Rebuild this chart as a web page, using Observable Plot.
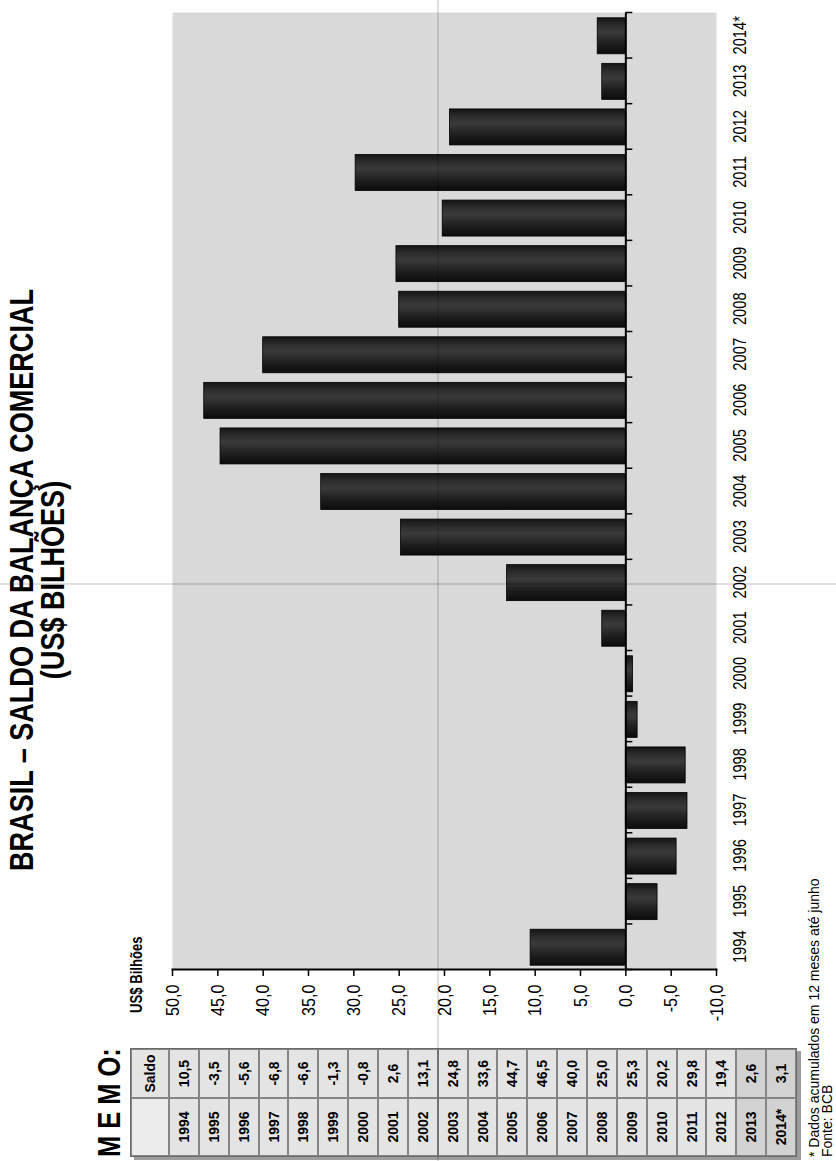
<!DOCTYPE html>
<html><head><meta charset="utf-8">
<script src="https://cdn.jsdelivr.net/npm/d3@7"></script>
<script src="https://cdn.jsdelivr.net/npm/@observablehq/plot@0.6"></script>
<style>
html,body{margin:0;padding:0;width:836px;height:1161px;overflow:hidden;background:#fff;}
#page{position:absolute;left:0;top:0;width:1161px;height:836px;transform-origin:0 0;transform:translateY(1161px) rotate(-90deg);font-family:"Liberation Sans",Arial,Helvetica,sans-serif;color:#000;}
#chart{position:absolute;left:120px;top:100px;}
#overlay{position:absolute;left:0;top:0;}
#memo{position:absolute;left:4px;top:130px;width:107px;border:1.5px solid #6a6a6a;box-shadow:-3px 4px 0 #9c9c9c;background:#e4e4e4;}
.row{display:flex;height:29.86px;}
.row.head{height:38px;}
.cell{box-sizing:border-box;border:0.5px solid #858585;display:flex;align-items:center;justify-content:center;font-weight:bold;font-size:14px;background:#e4e4e4;}
.c1{width:58px}.c2{width:49px}
.row.dark .cell{background:#d2d2d2;}
.vline{position:absolute;left:437px;top:0;width:1.5px;height:1161px;background:rgba(0,0,0,0.12);}
.hline{position:absolute;left:0;top:583px;width:836px;height:1.5px;background:rgba(0,0,0,0.12);}
</style>
</head><body>
<div id="page">
  <div id="chart"></div>
  <svg id="overlay" width="1161" height="836"></svg>
  <div id="memo"></div>
</div>
<div class="vline"></div>
<div class="hline"></div>
<script>
const years = ["1994","1995","1996","1997","1998","1999","2000","2001","2002","2003","2004","2005","2006","2007","2008","2009","2010","2011","2012","2013","2014*"];
const saldo = [10.5,-3.5,-5.6,-6.8,-6.6,-1.3,-0.8,2.6,13.1,24.8,33.6,44.7,46.5,40.0,25.0,25.3,20.2,29.8,19.4,2.6,3.1];
const valueTicks = [-10,-5,0,5,10,15,20,25,30,35,40,45,50];
const titleLines = ["BRASIL – SALDO DA BALANÇA COMERCIAL","(US$ BILHÕES)"];
const unitLabel = "US$ Bilhões";
const memoTitle = "M E M O:";
const memoHeader = "Saldo";
const notes = ["* Dados acumulados em 12 meses até junho","Fonte: BCB"];

const fmt = v => v.toFixed(1).replace(".", ",");
const data = years.map((y,i)=>({year:y, saldo:saldo[i]}));

const W=1041, H=700, mL=71, mR=13, mT=72, mB=84;
const step = (W-mL-mR)/years.length;
const tickLen = 7*(60/(H-mT-mB));
const font = '"Liberation Sans",Arial,Helvetica,sans-serif';

const chart = Plot.plot({
  width:W, height:H, marginLeft:mL, marginRight:mR, marginTop:mT, marginBottom:mB,
  style:{fontFamily:font, background:"transparent", overflow:"visible", color:"#000"},
  x:{type:"band", domain:years, paddingInner:0.21, paddingOuter:0.105, round:false, label:null},
  y:{domain:[-10,50], label:null},
  marks:[
    Plot.frame({fill:"#d9d9d9", stroke:null}),
    Plot.barY(data,{x:"year", y:"saldo", fill:"url(#barGrad)", stroke:"#000", strokeWidth:0.8}),
    Plot.ruleY([0],{stroke:"#000", strokeWidth:2}),
    Plot.ruleX(years,{x:d=>d, y1:0, y2:-tickLen, dx:-step/2, stroke:"#000", strokeWidth:1.5}),
    Plot.ruleX([years[years.length-1]],{x:d=>d, y1:0, y2:-tickLen, dx:step/2, stroke:"#000", strokeWidth:1.5}),
    Plot.axisY({ticks:valueTicks, tickFormat:fmt, tickSize:6, tickPadding:9, fontSize:19, strokeWidth:1.5, label:null}),
    Plot.frame({anchor:"left", stroke:"#000", strokeWidth:2}),
    Plot.axisX({tickSize:0, tickPadding:17, fontSize:18, label:null})
  ]
});
document.getElementById("chart").appendChild(chart);

const svg = d3.select(chart);
const grad = svg.insert("defs",":first-child").append("linearGradient")
  .attr("id","barGrad").attr("x1",0).attr("x2",1).attr("y1",0).attr("y2",0);
[[0,"#0c0c0c"],[0.25,"#1c1c1c"],[0.6,"#3a3a3a"],[0.8,"#2c2c2c"],[1,"#141414"]]
  .forEach(([o,c])=>grad.append("stop").attr("offset",o).attr("stop-color",c));

function squeeze(sel, k){
  sel.each(function(){
    const t = this.getAttribute("transform");
    if (t) this.setAttribute("transform", t+` scale(${k},1)`);
    else {
      const x=+this.getAttribute("x")||0, y=+this.getAttribute("y")||0;
      this.removeAttribute("x"); this.removeAttribute("y");
      this.setAttribute("transform",`translate(${x},${y}) scale(${k},1)`);
    }
  });
}
squeeze(svg.selectAll('g[aria-label="y-axis tick label"] text'), 0.85);
squeeze(svg.selectAll('g[aria-label="x-axis tick label"] text'), 0.82);

// overlay texts
const ov = d3.select("#overlay").style("font-family", font);
function addText(str, x, y, size, weight, anchor, k){
  ov.append("text").attr("transform",`translate(${x},${y}) scale(${k},1)`)
    .attr("text-anchor",anchor).attr("font-size",size).attr("font-weight",weight)
    .attr("fill","#000").text(str);
}
addText(titleLines[0], 581, 33, 33, "bold", "middle", 0.82);
addText(titleLines[1], 581, 64, 33, "bold", "middle", 0.82);
addText(memoTitle, 4, 120, 31, "bold", "start", 0.82);
addText(unitLabel, 148, 142, 16, "bold", "start", 0.82);
addText(notes[0], 4, 819, 14, "normal", "start", 1);
addText(notes[1], 4, 832, 14, "normal", "start", 1);

// memo table
const memo = d3.select("#memo");
const head = memo.append("div").attr("class","row head");
head.append("div").attr("class","cell c1").style("background","#ebebeb");
head.append("div").attr("class","cell c2").text(memoHeader);
years.forEach((y,i)=>{
  const r = memo.append("div").attr("class","row"+(i>=years.length-2?" dark":""));
  r.append("div").attr("class","cell c1").text(y);
  r.append("div").attr("class","cell c2").text(fmt(saldo[i]));
});
</script>
</body></html>
